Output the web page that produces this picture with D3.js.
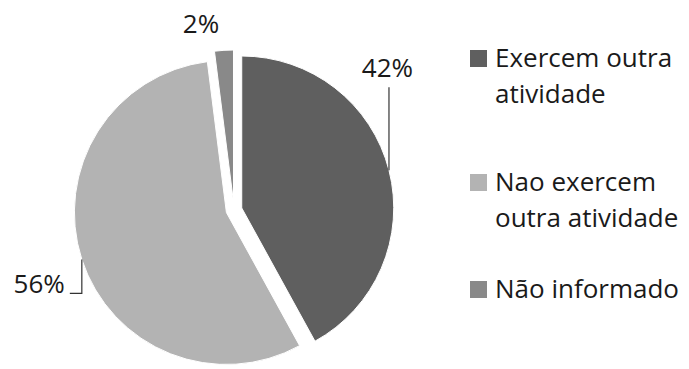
<!DOCTYPE html>
<html>
<head>
<meta charset="utf-8">
<script src="https://cdn.jsdelivr.net/npm/d3@7"></script>
<style>
  html, body { margin: 0; padding: 0; background: #fff; }
  svg { display: block; }
  text { font-family: "Open Sans", "Noto Sans", sans-serif; fill: #1a1a1a; }
</style>
</head>
<body>
<svg id="chart" width="689" height="369"></svg>
<script>
// Activity of respondents: share exercising another activity
const categories = ["Exercem outra atividade", "Nao exercem outra atividade", "Não informado"];
const legendLines = [["Exercem outra", "atividade"], ["Nao exercem", "outra atividade"], ["Não informado"]];
const values = [42, 56, 2];
const labels = ["42%", "56%", "2%"];
const colors = ["#5f5f5f", "#b3b3b3", "#898989"];

const svg = d3.select("#chart");
const cx = 234, cy = 210, radius = 152, explode = 8;
const fontSize = 26;

const pie = d3.pie().sort(null).value(d => d)(values);
const arc = d3.arc().innerRadius(0).outerRadius(radius);

// point at a given angle (clockwise from 12 o'clock) and distance
const polar = (a, r) => [Math.sin(a) * r, -Math.cos(a) * r];

const slices = svg.append("g").attr("transform", `translate(${cx},${cy})`);
pie.forEach((p, i) => {
  const mid = (p.startAngle + p.endAngle) / 2;
  const [ox, oy] = polar(mid, explode);
  p.ox = ox; p.oy = oy; p.mid = mid;
  slices.append("path")
    .attr("d", arc(p))
    .attr("transform", `translate(${ox},${oy})`)
    .attr("fill", colors[i])
    .attr("stroke", "#fff")
    .attr("stroke-width", 1);
});

// data labels with leader lines
const lab = svg.append("g").attr("transform", `translate(${cx},${cy})`);
const edge = p => { const [x, y] = polar(p.mid, radius); return [x + p.ox, y + p.oy]; };

// 42%
{
  const [x, y] = edge(pie[0]);
  lab.append("path").attr("d", `M${x},${y}V${y - 83}`).attr("stroke", "#333").attr("fill", "none").attr("stroke-width", 1.2);
  lab.append("text").attr("x", x - 1.5).attr("y", y - 93).attr("text-anchor", "middle")
    .attr("font-size", fontSize).text(labels[0]);
}
// 56%
{
  const [x, y] = edge(pie[1]);
  lab.append("path").attr("d", `M${x},${y}V${y + 34}H${x - 12}`).attr("stroke", "#333").attr("fill", "none").attr("stroke-width", 1.2);
  lab.append("text").attr("x", x - 17).attr("y", y + 34).attr("text-anchor", "end")
    .attr("font-size", fontSize).text(labels[1]);
}
// 2%
{
  const [x, y] = edge(pie[2]);
  lab.append("text").attr("x", x - 23).attr("y", y - 17).attr("text-anchor", "middle")
    .attr("font-size", fontSize).text(labels[2]);
}

// legend
const legend = svg.append("g").attr("transform", "translate(470,50)");
const entryY = [0, 124, 231];
const lineH = 36.6;
legendLines.forEach((lines, i) => {
  const g = legend.append("g").attr("transform", `translate(0,${entryY[i]})`);
  g.append("rect").attr("width", 17).attr("height", 17).attr("fill", colors[i]);
  lines.forEach((t, j) => {
    g.append("text").attr("x", 25).attr("y", 16.7 + j * lineH)
      .attr("font-size", fontSize).text(t);
  });
});
</script>
</body>
</html>
